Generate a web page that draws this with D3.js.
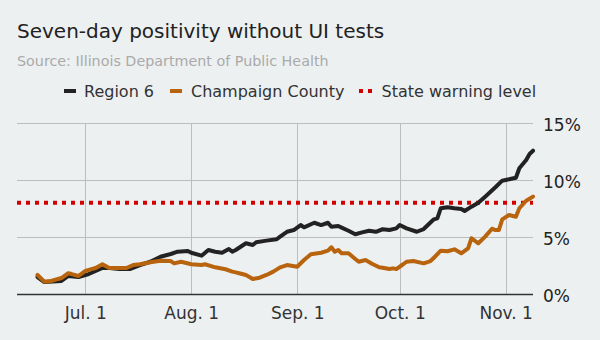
<!DOCTYPE html>
<html><head><meta charset="utf-8">
<script src="https://cdn.jsdelivr.net/npm/d3@7"></script>
<style>
html,body{margin:0;padding:0;background:#edf0f1;}
svg{display:block;font-family:"DejaVu Sans",Verdana,sans-serif;}
</style></head>
<body><svg id="c" width="600" height="340"></svg>
<script>
const titleText = "Seven-day positivity without UI tests";
const sourceText = "Source: Illinois Department of Public Health";
const seriesNames = ["Region 6", "Champaign County", "State warning level"];
const warningLevel = 8;

const r6Dates = ["06-17","06-19","06-24","06-26","06-29","07-02","07-04","07-06","07-08","07-11","07-14","07-17","07-20","07-23","07-26","07-28","07-31","08-01","08-04","08-06","08-08","08-10","08-12","08-13","08-14","08-17","08-19","08-20","08-23","08-26","08-27","08-29","08-31","09-02","09-03","09-06","09-08","09-10","09-11","09-13","09-14","09-16","09-18","09-20","09-22","09-24","09-26","09-28","09-30","10-01","10-03","10-06","10-08","10-09","10-11","10-12","10-13","10-15","10-17","10-19","10-20","10-22","10-24","10-26","10-29","10-31","11-02","11-04","11-05","11-07","11-08","11-09"];
const r6Values = [1.49,1.05,1.14,1.58,1.49,1.75,2.02,2.28,2.28,2.19,2.19,2.54,2.83,3.27,3.51,3.71,3.77,3.62,3.36,3.86,3.71,3.62,3.95,3.71,3.86,4.45,4.30,4.54,4.68,4.80,5.03,5.46,5.61,6.05,5.85,6.25,6.05,6.25,5.90,5.96,5.82,5.55,5.24,5.41,5.55,5.46,5.68,5.61,5.76,6.05,5.76,5.46,5.70,5.99,6.55,6.64,7.52,7.61,7.52,7.46,7.28,7.66,8.01,8.54,9.36,9.94,10.06,10.20,11.03,11.75,12.28,12.57];

const ccDates = ["06-17","06-19","06-21","06-23","06-24","06-26","06-27","06-29","07-01","07-02","07-04","07-06","07-08","07-10","07-13","07-15","07-17","07-20","07-23","07-26","07-27","07-29","08-01","08-04","08-05","08-08","08-11","08-13","08-14","08-15","08-17","08-19","08-21","08-23","08-25","08-27","08-29","09-01","09-03","09-05","09-08","09-10","09-11","09-12","09-13","09-14","09-16","09-18","09-19","09-21","09-23","09-25","09-26","09-28","09-29","09-30","10-02","10-03","10-05","10-08","10-10","10-11","10-13","10-15","10-17","10-19","10-21","10-22","10-24","10-26","10-28","10-29","10-30","10-31","11-02","11-04","11-05","11-07","11-09"];
const ccValues = [1.67,1.08,1.14,1.32,1.40,1.82,1.75,1.58,2.02,2.11,2.28,2.61,2.28,2.28,2.28,2.54,2.61,2.78,2.92,2.89,2.69,2.83,2.61,2.54,2.61,2.34,2.17,1.96,1.90,1.82,1.67,1.32,1.43,1.67,1.96,2.34,2.54,2.39,2.98,3.48,3.62,3.80,4.10,3.71,3.86,3.57,3.57,3.07,2.83,2.98,2.63,2.34,2.31,2.19,2.25,2.19,2.61,2.83,2.89,2.69,2.89,3.18,3.80,3.75,3.92,3.57,4.01,4.89,4.45,5.03,5.73,5.61,5.61,6.55,6.93,6.78,7.52,8.18,8.54];

const xTickDates = ["07-01","08-01","09-01","10-01","11-01"];
const xTickLabels = ["Jul. 1","Aug. 1","Sep. 1","Oct. 1","Nov. 1"];
const yTicks = [0,5,10,15];

const year = 2020;
const parse = s => d3.timeParse("%Y-%m-%d")(year + "-" + s);

const svg = d3.select("#c");
const L = 17, R = 533, T = 123, B = 294;
const x = d3.scaleTime().domain([parse("06-11"), parse("11-09")]).range([L, R]);
const y = d3.scaleLinear().domain([0, 15]).range([B, T]);

// title
svg.append("text").attr("x", 17).attr("y", 38).attr("font-size", 20).attr("fill", "#222").text(titleText);
svg.append("text").attr("x", 17).attr("y", 66).attr("font-size", 14.3).attr("fill", "#aaa").text(sourceText);

// legend
const leg = svg.append("g").attr("font-size", 16).attr("fill", "#333");
const legItems = [
  {name: seriesNames[0], sx: 64, tx: 84, type: "solid", color: "#222"},
  {name: seriesNames[1], sx: 170, tx: 191, type: "solid", color: "#b8640f"},
  {name: seriesNames[2], sx: 359, tx: 381.5, type: "dots", color: "#d30000"}
];
legItems.forEach(it => {
  if (it.type === "solid") {
    leg.append("rect").attr("x", it.sx).attr("y", 89).attr("width", 12).attr("height", 4).attr("fill", it.color);
  } else {
    leg.append("rect").attr("x", it.sx).attr("y", 89).attr("width", 4).attr("height", 4).attr("fill", it.color);
    leg.append("rect").attr("x", it.sx + 9).attr("y", 89).attr("width", 4).attr("height", 4).attr("fill", it.color);
  }
  leg.append("text").attr("x", it.tx).attr("y", 97).text(it.name);
});

// gridlines
const grid = svg.append("g").attr("stroke", "#bdbdbd").attr("stroke-width", 1);
yTicks.filter(v => v > 0).forEach(v => {
  grid.append("line").attr("x1", L).attr("x2", R).attr("y1", Math.round(y(v)) + 0.5).attr("y2", Math.round(y(v)) + 0.5);
});
xTickDates.forEach(d => {
  const xx = Math.round(x(parse(d))) + 0.5;
  grid.append("line").attr("x1", xx).attr("x2", xx).attr("y1", T).attr("y2", B);
});

// x axis
const xAxis = d3.axisBottom(x).tickValues(xTickDates.map(parse)).tickSize(0).tickPadding(13)
  .tickFormat((d, i) => xTickLabels[i]);
const xg = svg.append("g").attr("transform", `translate(0,${B})`).call(xAxis);
xg.select(".domain").remove();
xg.selectAll("text").attr("font-size", 17).attr("fill", "#333").attr("font-family", "DejaVu Sans").attr("dy", "0.71em");

// y axis
const yAxis = d3.axisRight(y).tickValues(yTicks).tickSize(0).tickPadding(10).tickFormat(d => d + "%");
const yg = svg.append("g").attr("transform", `translate(${R},0)`).call(yAxis);
yg.select(".domain").remove();
yg.selectAll("text").attr("font-size", 17).attr("fill", "#222").attr("font-family", "DejaVu Sans").attr("dy", "0.45em");

// baseline
svg.append("line").attr("x1", L).attr("x2", R).attr("y1", B + 0.5).attr("y2", B + 0.5).attr("stroke", "#333").attr("stroke-width", 1.5);

// warning line
svg.append("line").attr("x1", L).attr("x2", R).attr("y1", y(warningLevel)).attr("y2", y(warningLevel))
  .attr("stroke", "#d30000").attr("stroke-width", 4).attr("stroke-dasharray", "4,5");

const line = d3.line().x(d => x(d[0])).y(d => y(d[1]));
const r6 = r6Dates.map((d, i) => [parse(d), r6Values[i]]);
const cc = ccDates.map((d, i) => [parse(d), ccValues[i]]);

svg.append("path").datum(r6).attr("d", line).attr("fill", "none").attr("stroke", "#222")
  .attr("stroke-width", 4).attr("stroke-linejoin", "round").attr("stroke-linecap", "round");
svg.append("path").datum(cc).attr("d", line).attr("fill", "none").attr("stroke", "#b8640f")
  .attr("stroke-width", 4).attr("stroke-linejoin", "round").attr("stroke-linecap", "round");
</script>
</body></html>
